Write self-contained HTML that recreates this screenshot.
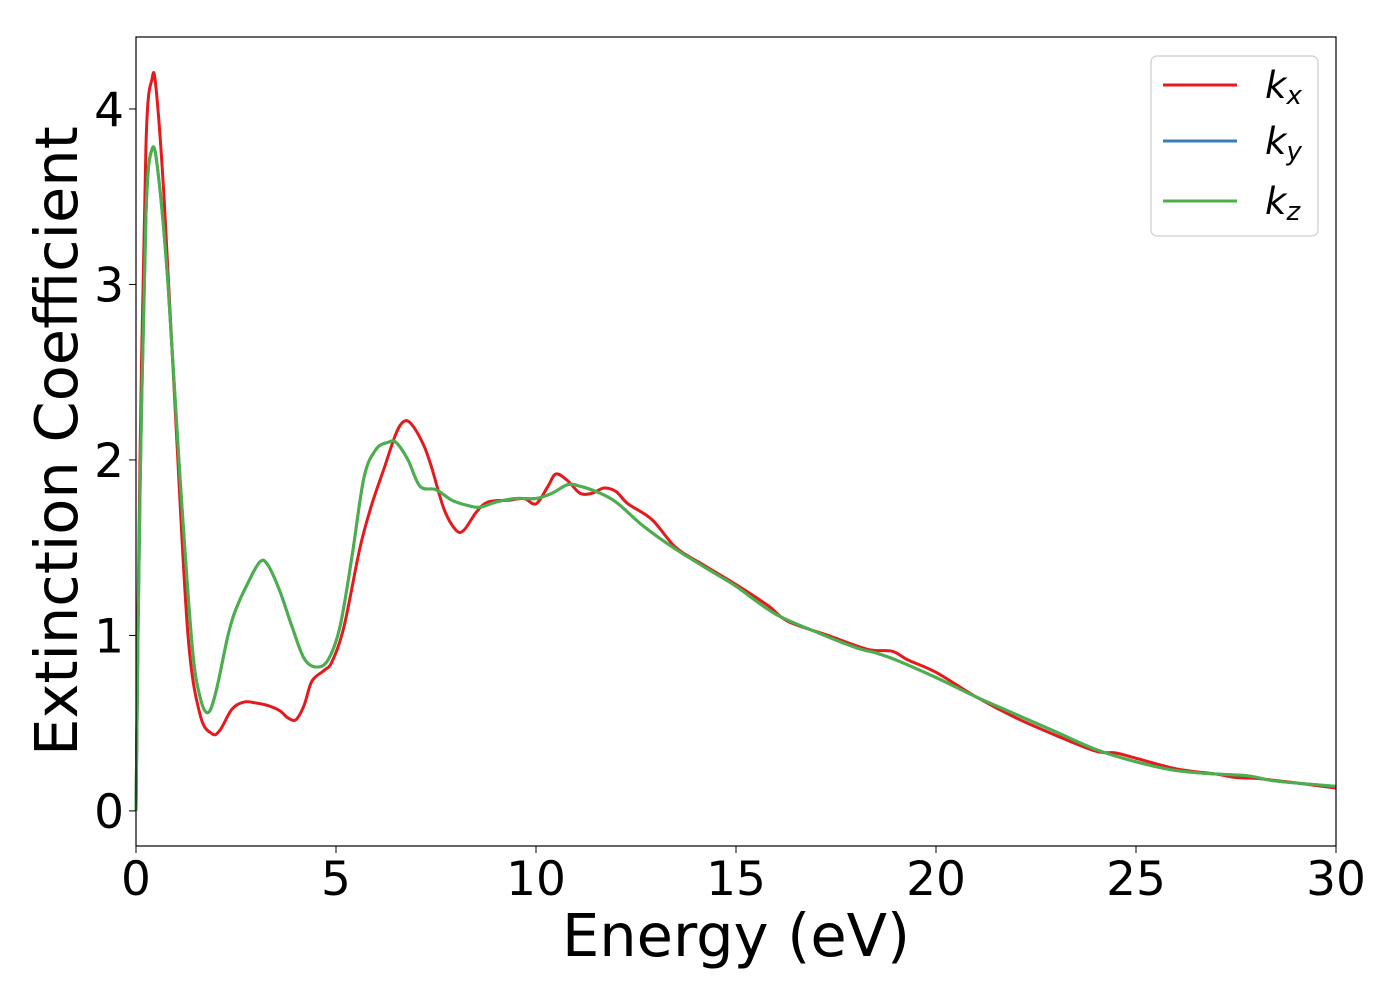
<!DOCTYPE html>
<html><head><meta charset="utf-8"><style>
body{margin:0;background:#fff;}
svg text{font-family:"DejaVu Sans","Liberation Sans",sans-serif;}
</style></head><body>
<svg width="1400" height="1000" viewBox="0 0 1400 1000">
<g id="plot"></g>
<rect x="136" y="37" width="1200" height="809" fill="none" stroke="#000" stroke-width="1.2"/>
<g id="ticks"></g>
<text x="736" y="956" font-size="59" text-anchor="middle">Energy (eV)</text>
<text transform="translate(77,441) rotate(-90)" font-size="59" text-anchor="middle">Extinction Coefficient</text>
<g>
<rect x="1151" y="56" width="167" height="180" rx="6" fill="#fff" stroke="#ccc" stroke-width="1.2"/>
<line x1="1163" y1="85" x2="1237" y2="85" stroke="#e41a1c" stroke-width="3"/>
<line x1="1163" y1="141" x2="1237" y2="141" stroke="#377eb8" stroke-width="3"/>
<line x1="1163" y1="201" x2="1237" y2="201" stroke="#4daf4a" stroke-width="3"/>
<text x="1265" y="98" font-size="37" font-style="italic">k<tspan font-size="26" dy="6">x</tspan></text>
<text x="1265" y="154" font-size="37" font-style="italic">k<tspan font-size="26" dy="6">y</tspan></text>
<text x="1265" y="214" font-size="37" font-style="italic">k<tspan font-size="26" dy="6">z</tspan></text>
</g>
</svg>
<script>
const kxE=[0,0.1,0.25,0.4,0.5,0.7,1.0,1.3,1.6,1.9,2.1,2.4,2.7,3.0,3.3,3.6,3.8,4.0,4.2,4.4,4.7,4.9,5.2,5.6,5.9,6.2,6.5,6.7,6.9,7.2,7.4,7.7,8.0,8.2,8.5,8.8,9.3,9.7,10.0,10.3,10.5,10.8,11.1,11.4,11.7,12.0,12.3,12.9,13.5,14.2,15,15.8,16.3,17.3,18.3,18.9,19.3,20,21,22,23,24,24.5,25,26,27,27.5,28,29,30];
const kxV=[0,2.0,3.8,4.17,4.12,3.5,2.2,1.0,0.55,0.44,0.46,0.58,0.62,0.615,0.6,0.57,0.53,0.52,0.6,0.74,0.8,0.85,1.05,1.5,1.75,1.95,2.15,2.22,2.2,2.08,1.95,1.72,1.6,1.6,1.7,1.76,1.77,1.78,1.75,1.85,1.92,1.88,1.81,1.81,1.84,1.82,1.75,1.66,1.5,1.4,1.29,1.17,1.08,1.0,0.92,0.91,0.86,0.79,0.65,0.53,0.43,0.34,0.33,0.3,0.24,0.21,0.19,0.185,0.16,0.13];
const kzE=[0,0.1,0.25,0.4,0.55,0.8,1.1,1.4,1.6,1.8,2.0,2.3,2.5,2.8,3.1,3.3,3.6,3.9,4.2,4.5,4.8,5.1,5.4,5.7,6.0,6.3,6.5,6.8,7.1,7.5,7.9,8.3,8.6,9.0,9.5,10.0,10.4,10.8,11.1,11.5,12.0,12.7,13.5,14.5,15,16,17,18,18.5,19,20,21,22,23,24,25,26,27,27.8,28.5,30];
const kzV=[0,1.8,3.4,3.77,3.64,3.0,1.9,0.95,0.65,0.56,0.68,1.0,1.15,1.3,1.42,1.4,1.25,1.05,0.87,0.82,0.86,1.05,1.45,1.9,2.06,2.1,2.1,2.0,1.85,1.83,1.77,1.74,1.73,1.76,1.78,1.78,1.81,1.86,1.85,1.82,1.76,1.62,1.49,1.35,1.28,1.12,1.02,0.93,0.9,0.86,0.76,0.65,0.55,0.45,0.35,0.28,0.23,0.21,0.2,0.17,0.14];
const kyE=kzE, kyV=kzV;
const xTicks=[0,5,10,15,20,25,30];
const yTicks=[0,1,2,3,4];
const X0=136,X1=1336,XMIN=0,XMAX=30,Y0=846,Y1=37,YMIN=-0.2,YMAX=4.41;
const sx=v=>X0+(v-XMIN)/(XMAX-XMIN)*(X1-X0);
const sy=v=>Y0-(v-YMIN)/(YMAX-YMIN)*(Y0-Y1);
const NS="http://www.w3.org/2000/svg";
function path(E,V){const p=E.map((e,i)=>[sx(e),sy(V[i])]);let d="M"+p[0][0]+","+p[0][1];
for(let i=0;i<p.length-1;i++){const a=p[Math.max(i-1,0)],b=p[i],c=p[i+1],n=p[Math.min(i+2,p.length-1)];
d+=` C${b[0]+(c[0]-a[0])/6},${b[1]+(c[1]-a[1])/6} ${c[0]-(n[0]-b[0])/6},${c[1]-(n[1]-b[1])/6} ${c[0]},${c[1]}`;}return d;}
const plot=document.getElementById('plot');
[[kxE,kxV,'#e41a1c','series-kx'],[kyE,kyV,'#377eb8','series-ky'],[kzE,kzV,'#4daf4a','series-kz']].forEach(s=>{
const el=document.createElementNS(NS,'path');el.setAttribute('d',path(s[0],s[1]));el.setAttribute('fill','none');el.setAttribute('stroke',s[2]);el.setAttribute('stroke-width','3');


plot.appendChild(el);});
const tg=document.getElementById('ticks');
xTicks.forEach(t=>{const l=document.createElementNS(NS,'line');l.setAttribute('x1',sx(t));l.setAttribute('x2',sx(t));l.setAttribute('y1',846);l.setAttribute('y2',853);l.setAttribute('stroke','#000');


tg.appendChild(l);
const tx=document.createElementNS(NS,'text');tx.setAttribute('x',sx(t));tx.setAttribute('y',895);tx.setAttribute('font-size','47');tx.setAttribute('text-anchor','middle');tx.textContent=t;


tg.appendChild(tx);});
yTicks.forEach(t=>{const l=document.createElementNS(NS,'line');l.setAttribute('x1',129);l.setAttribute('x2',136);l.setAttribute('y1',sy(t));l.setAttribute('y2',sy(t));l.setAttribute('stroke','#000');


tg.appendChild(l);
const tx=document.createElementNS(NS,'text');tx.setAttribute('x',124);tx.setAttribute('y',sy(t)+17);tx.setAttribute('font-size','47');tx.setAttribute('text-anchor','end');tx.textContent=t;


tg.appendChild(tx);});
</script>
</body></html>
